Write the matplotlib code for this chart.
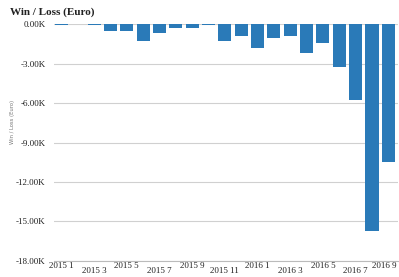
import numpy as np
import matplotlib.pyplot as plt
import matplotlib.transforms as mtransforms
from matplotlib.ticker import FuncFormatter

months = ["2015 1", "2015 2", "2015 3", "2015 4", "2015 5", "2015 6", "2015 7",
          "2015 8", "2015 9", "2015 10", "2015 11", "2015 12", "2016 1", "2016 2",
          "2016 3", "2016 4", "2016 5", "2016 6", "2016 7", "2016 8", "2016 9"]
win_loss = [-60, 0, -80, -500, -500, -1260, -700, -330, -330, -100, -1260, -900,
            -1840, -1080, -900, -2220, -1460, -3230, -5760, -15760, -10450]

plt.rcParams['font.family'] = ['Liberation Serif', 'DejaVu Serif']

fig = plt.figure(figsize=(3.99, 2.77), dpi=100)
ax = fig.add_axes([0.135, 0.058, 0.862, 0.855])

x = np.arange(len(months))
ax.bar(x, win_loss, width=0.8, color='#2a7ab8', zorder=3)

ax.set_ylim(-18000, 0)
ax.set_xlim(-0.46, 20.58)
ax.set_yticks(np.arange(-18000, 1, 3000))
ax.yaxis.set_major_formatter(FuncFormatter(lambda v, p: f"{v / 1000:.2f}K"))
ax.grid(axis='y', color='#d0d0d0', linewidth=0.8, zorder=0)

# every other month, staggered in two rows
ax.set_xticks(x[::2])
ax.set_xticklabels(months[::2])
for i, t in enumerate(ax.xaxis.get_major_ticks()):
    t.set_pad(1 if i % 2 == 0 else 4.5)

ax.tick_params(axis='both', length=0, labelsize=6.5, colors='#222222')
ax.tick_params(axis='y', pad=6)
for s in ['top', 'left', 'right']:
    ax.spines[s].set_visible(False)
ax.spines['bottom'].set_color('#bbbbbb')

# last label sits flush with the right edge
last = ax.get_xticklabels()[-1]
last.set_transform(last.get_transform() +
                   mtransforms.ScaledTranslation(-3 / 72, 0, fig.dpi_scale_trans))

fig.text(0.032, 0.56, "Win / Loss (Euro)", fontsize=3.8, color='#777777',
         family=['DejaVu Sans'], rotation=90, va='center', ha='center')
fig.text(0.025, 0.955, "Win / Loss (Euro)", fontsize=8, fontweight='bold',
         va='center', ha='left', color='#222222')

fig.savefig("out.png", dpi=100)
